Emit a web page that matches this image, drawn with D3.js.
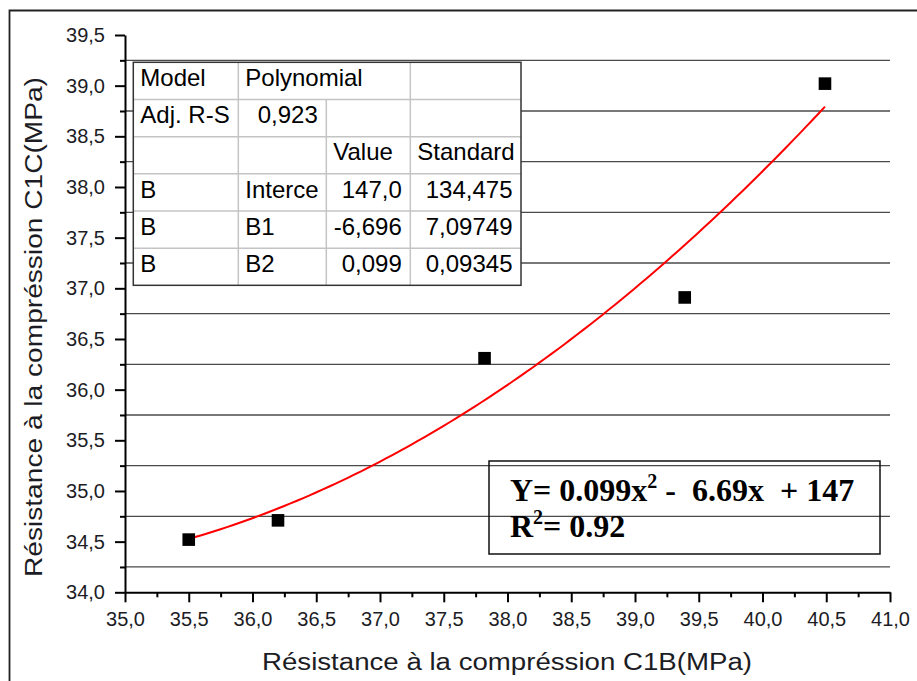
<!DOCTYPE html>
<html>
<head>
<meta charset="utf-8">
<script src="https://cdn.jsdelivr.net/npm/d3@7"></script>
<style>
  html, body { margin: 0; padding: 0; background: #fff; }
  svg { display: block; }
  text { font-family: "Liberation Sans", Arial, sans-serif; }
</style>
</head>
<body>
<svg id="chart" width="917" height="681"></svg>
<script>
// Compressive strength measurements: C1B (x) against C1C (y), in MPa
const c1b = [35.5, 36.2, 37.82, 39.39, 40.49];
const c1c = [34.52, 34.71, 36.31, 36.91, 39.02];

// Axis ticks
const xTicks = [35.0, 35.5, 36.0, 36.5, 37.0, 37.5, 38.0, 38.5, 39.0, 39.5, 40.0, 40.5, 41.0];
const xMinorTicks = [35.25, 35.75, 36.25, 36.75, 37.25, 37.75, 38.25, 38.75, 39.25, 39.75, 40.25, 40.75];
const yTicks = [34.0, 34.5, 35.0, 35.5, 36.0, 36.5, 37.0, 37.5, 38.0, 38.5, 39.0, 39.5];
const yMinorTicks = [34.25, 34.75, 35.25, 35.75, 36.25, 36.75, 37.25, 37.75, 38.25, 38.75, 39.25];

// Fit report table (null = merged with the cell on its left)
const tableRows = [
  ["Model", "Polynomial", null, ""],
  ["Adj. R-S", "0,923", "", ""],
  ["", "", "Value", "Standard"],
  ["B", "Interce", "147,0", "134,475"],
  ["B", "B1", "-6,696", "7,09749"],
  ["B", "B2", "0,099", "0,09345"]
];

// Equation annotation
const eqCoefs = ["0.099", "6.69", "147"];
const r2Label = "0.92";

const xTitle = "Résistance à la compréssion C1B(MPa)";
const yTitle = "Résistance à la compréssion C1C(MPa)";

const svg = d3.select("#chart");
const fmt = d3.formatLocale({decimal: ",", thousands: ".", grouping: [3], currency: ["", ""]}).format(".1f");

const x = d3.scaleLinear().domain([35, 41]).range([125, 890]);
const y = d3.scaleLinear().domain([34, 39.5]).range([592.3, 35]);

// Outer frame
svg.append("path")
  .attr("d", "M9.5,681 V10.5 H917")
  .attr("fill", "none").attr("stroke", "#222").attr("stroke-width", 1.8);

// Horizontal grid lines at the minor tick positions
svg.append("g").selectAll("line").data(yMinorTicks).join("line")
  .attr("x1", x(35)).attr("x2", x(41))
  .attr("y1", d => y(d)).attr("y2", d => y(d))
  .attr("stroke", "#4a4a4a").attr("stroke-width", 1.3);

// Least-squares quadratic fit of the measurements
function quadFit(xs, ys) {
  const S = Array(5).fill(0), T = Array(3).fill(0);
  xs.forEach((xi, i) => {
    for (let k = 0; k < 5; k++) S[k] += Math.pow(xi, k);
    for (let k = 0; k < 3; k++) T[k] += Math.pow(xi, k) * ys[i];
  });
  const A = [[S[0], S[1], S[2], T[0]], [S[1], S[2], S[3], T[1]], [S[2], S[3], S[4], T[2]]];
  for (let c = 0; c < 3; c++) {
    let p = c;
    for (let r = c + 1; r < 3; r++) if (Math.abs(A[r][c]) > Math.abs(A[p][c])) p = r;
    [A[c], A[p]] = [A[p], A[c]];
    for (let r = 0; r < 3; r++) {
      if (r === c) continue;
      const f = A[r][c] / A[c][c];
      for (let k = c; k < 4; k++) A[r][k] -= f * A[c][k];
    }
  }
  return [A[0][3] / A[0][0], A[1][3] / A[1][1], A[2][3] / A[2][2]];
}
const [b0, b1, b2] = quadFit(c1b, c1c);
const xMin = d3.min(c1b), xMax = d3.max(c1b);
const curve = d3.range(0, 101).map(i => {
  const xv = xMin + (xMax - xMin) * i / 100;
  return [xv, b0 + b1 * xv + b2 * xv * xv];
});
svg.append("path")
  .datum(curve)
  .attr("d", d3.line().x(d => x(d[0])).y(d => y(d[1])))
  .attr("fill", "none").attr("stroke", "#ff0000").attr("stroke-width", 2);

// Axes
function styleAxis(g) {
  g.select(".domain").attr("stroke", "#000").attr("stroke-width", 2);
  g.selectAll(".tick line").attr("stroke", "#000").attr("stroke-width", 2);
  g.selectAll(".tick text").attr("fill", "#1c1c24").style("font-size", "20px")
    .style("font-family", "'Liberation Sans', Arial, sans-serif");
}
svg.append("g").attr("transform", `translate(0,${y(34)})`)
  .call(d3.axisBottom(x).tickValues(xMinorTicks).tickSize(5).tickSizeOuter(0).tickFormat(""))
  .call(g => { g.select(".domain").remove(); g.selectAll(".tick line").attr("stroke", "#000").attr("stroke-width", 2); });
svg.append("g").attr("transform", `translate(${x(35)},0)`)
  .call(d3.axisLeft(y).tickValues(yMinorTicks).tickSize(5).tickSizeOuter(0).tickFormat(""))
  .call(g => { g.select(".domain").remove(); g.selectAll(".tick line").attr("stroke", "#000").attr("stroke-width", 2); });
svg.append("g").attr("transform", `translate(0,${y(34)})`)
  .call(d3.axisBottom(x).tickValues(xTicks).tickSize(10).tickSizeOuter(0).tickPadding(9.5).tickFormat(fmt))
  .call(styleAxis);
svg.append("g").attr("transform", `translate(${x(35)},0)`)
  .call(d3.axisLeft(y).tickValues(yTicks).tickSize(10).tickSizeOuter(0).tickPadding(10).tickFormat(fmt))
  .call(styleAxis);

// Axis titles
svg.append("text")
  .attr("x", 507).attr("y", 670)
  .attr("text-anchor", "middle")
  .attr("textLength", 490).attr("lengthAdjust", "spacingAndGlyphs")
  .style("font-size", "23px").attr("fill", "#1c1c24")
  .text(xTitle);
svg.append("text")
  .attr("transform", "translate(42,327) rotate(-90)")
  .attr("text-anchor", "middle")
  .attr("textLength", 500).attr("lengthAdjust", "spacingAndGlyphs")
  .style("font-size", "23px").attr("fill", "#1c1c24")
  .text(yTitle);

// Fit report table
const colEdges = [133.3, 238.3, 326.3, 410.3, 521];
const rowTop = 62.3, rowH = 37.17;
const tbl = svg.append("g");
tbl.append("rect")
  .attr("x", colEdges[0]).attr("y", rowTop)
  .attr("width", colEdges[4] - colEdges[0]).attr("height", rowH * tableRows.length)
  .attr("fill", "#fff");
// inner row separators
tableRows.slice(1).forEach((_, i) => {
  tbl.append("line")
    .attr("x1", colEdges[0]).attr("x2", colEdges[4])
    .attr("y1", rowTop + rowH * (i + 1)).attr("y2", rowTop + rowH * (i + 1))
    .attr("stroke", "#c4c4c4").attr("stroke-width", 1.5);
});
// inner column separators, skipped where cells are merged
tableRows.forEach((row, r) => {
  for (let c = 1; c < 4; c++) {
    if (row[c] === null) continue;
    tbl.append("line")
      .attr("x1", colEdges[c]).attr("x2", colEdges[c])
      .attr("y1", rowTop + rowH * r).attr("y2", rowTop + rowH * (r + 1))
      .attr("stroke", "#c4c4c4").attr("stroke-width", 1.5);
  }
});
tbl.append("rect")
  .attr("x", colEdges[0]).attr("y", rowTop)
  .attr("width", colEdges[4] - colEdges[0]).attr("height", rowH * tableRows.length)
  .attr("fill", "none").attr("stroke", "#333").attr("stroke-width", 1.5);
tableRows.forEach((row, r) => {
  row.forEach((cell, c) => {
    if (!cell) return;
    const numeric = /^-?[\d,]+$/.test(cell);
    tbl.append("text")
      .attr("x", numeric ? colEdges[c + 1] - 8.5 : colEdges[c] + 7)
      .attr("y", rowTop + rowH * r + 23.7)
      .attr("text-anchor", numeric ? "end" : "start")
      .style("font-size", "24px").attr("fill", "#000")
      .text(cell);
  });
});

// Data points
svg.append("g").selectAll("rect").data(c1b.map((d, i) => [d, c1c[i]])).join("rect")
  .attr("x", d => x(d[0]) - 6.3).attr("y", d => y(d[1]) - 6.3)
  .attr("width", 12.6).attr("height", 12.6)
  .attr("fill", "#000");

// Equation box
svg.append("rect")
  .attr("x", 489).attr("y", 461).attr("width", 391).attr("height", 93)
  .attr("fill", "none").attr("stroke", "#111").attr("stroke-width", 1.5);
const eqStyle = t => t.style("font-family", "'Liberation Serif', 'Times New Roman', serif")
  .style("font-weight", "bold").style("font-size", "32px").attr("fill", "#000")
  .style("white-space", "pre");
const eq1 = svg.append("text").attr("x", 510).attr("y", 501).call(eqStyle);
eq1.append("tspan").text(`Y= ${eqCoefs[0]}x`);
eq1.append("tspan").attr("dy", -13).style("font-size", "20px").text("2");
eq1.append("tspan").attr("dy", 13).text(` -  ${eqCoefs[1]}x  + ${eqCoefs[2]}`);
const eq2 = svg.append("text").attr("x", 510).attr("y", 537).call(eqStyle);
eq2.append("tspan").text("R");
eq2.append("tspan").attr("dy", -13).style("font-size", "20px").text("2");
eq2.append("tspan").attr("dy", 13).text(`= ${r2Label}`);
</script>
</body>
</html>
